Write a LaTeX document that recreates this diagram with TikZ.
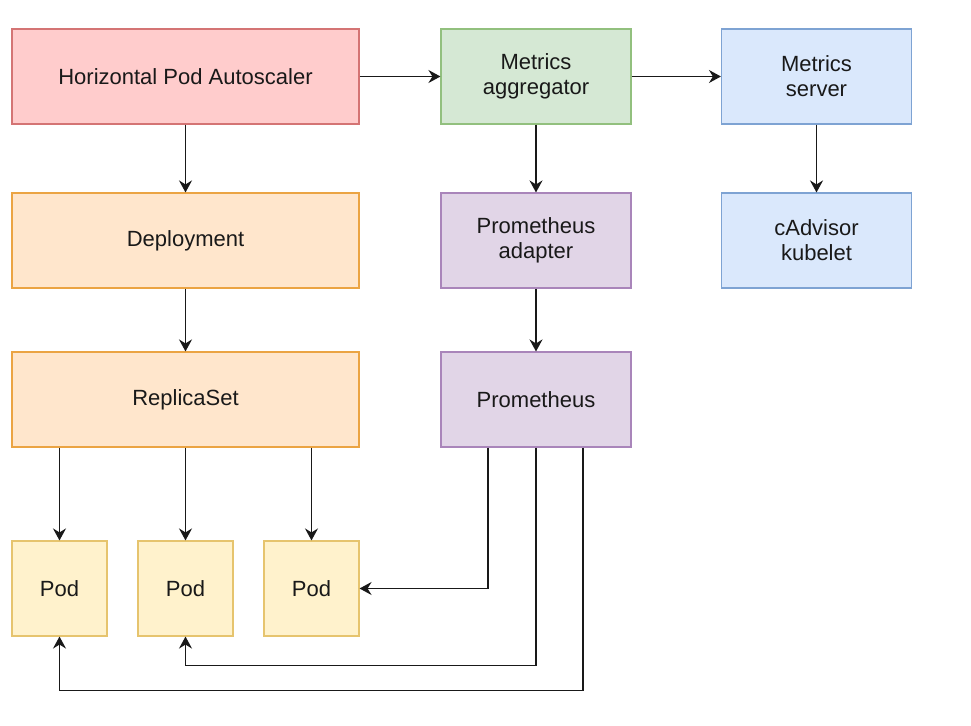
\documentclass[tikz,border=0pt]{standalone}
\usepackage{fontspec}
\setmainfont{Liberation Sans}
\usetikzlibrary{arrows.meta,calc}
\definecolor{redF}{HTML}{FFCCCC}\definecolor{redD}{HTML}{D47474}
\definecolor{greenF}{HTML}{D5E8D4}\definecolor{greenD}{HTML}{92C07E}
\definecolor{blueF}{HTML}{DAE8FC}\definecolor{blueD}{HTML}{7EA3D3}
\definecolor{orangeF}{HTML}{FFE6CC}\definecolor{orangeD}{HTML}{EBA443}
\definecolor{purpleF}{HTML}{E1D5E7}\definecolor{purpleD}{HTML}{A985BA}
\definecolor{yellowF}{HTML}{FFF2CC}\definecolor{yellowD}{HTML}{E6C46E}
\begin{document}
\begin{tikzpicture}[x=1pt,y=-1pt,
  box/.style={draw, line width=1.1pt, inner sep=0pt, align=center,
    font=\fontsize{22}{25}\selectfont, text=black!90},
  wide/.style={box, minimum width=347pt, minimum height=95pt},
  mid/.style={box, minimum width=190pt, minimum height=95pt},
  pod/.style={box, minimum width=95pt, minimum height=95pt, fill=yellowF, draw=yellowD},
  arr/.style={line width=1.6pt, black!90, -{Stealth[length=12pt,width=13pt,inset=4pt]}}]
\useasboundingbox (0,0) rectangle (971,725);
\fill[white] (0,0) rectangle (971,725);
\node[wide, fill=redF, draw=redD] (hpa) at (185.5,76.5) {Horizontal Pod Autoscaler};
\node[mid, fill=greenF, draw=greenD] (agg) at (536,76.5) {Metrics\\aggregator};
\node[mid, fill=blueF, draw=blueD] (srv) at (816.5,76.5) {Metrics\\server};
\node[wide, fill=orangeF, draw=orangeD] (dep) at (185.5,240.5) {Deployment};
\node[mid, fill=purpleF, draw=purpleD] (adp) at (536,240.5) {Prometheus\\adapter};
\node[mid, fill=blueF, draw=blueD] (cad) at (816.5,240.5) {cAdvisor\\kubelet};
\node[wide, fill=orangeF, draw=orangeD] (rs) at (185.5,399.5) {ReplicaSet};
\node[mid, fill=purpleF, draw=purpleD] (prom) at (536,399.5) {Prometheus};
\node[pod] (pod1) at (59.5,588.5) {Pod};
\node[pod] (pod2) at (185.5,588.5) {Pod};
\node[pod] (pod3) at (311.5,588.5) {Pod};
\draw[arr] (hpa) -- (agg);
\draw[arr] (agg) -- (srv);
\draw[arr] (hpa) -- (dep);
\draw[arr] (dep) -- (rs);
\draw[arr] (agg) -- (adp);
\draw[arr] (adp) -- (prom);
\draw[arr] (srv) -- (cad);
\draw[arr] (pod1 |- rs.south) -- (pod1);
\draw[arr] (pod2 |- rs.south) -- (pod2);
\draw[arr] (pod3 |- rs.south) -- (pod3);
\draw[arr] ([xshift=-48pt]prom.south) |- (pod3.east);
\draw[arr] (prom.south) -- ++(0,218) -| (pod2.south);
\draw[arr] ([xshift=47pt]prom.south) -- ++(0,243) -| (pod1.south);
\end{tikzpicture}
\end{document}
